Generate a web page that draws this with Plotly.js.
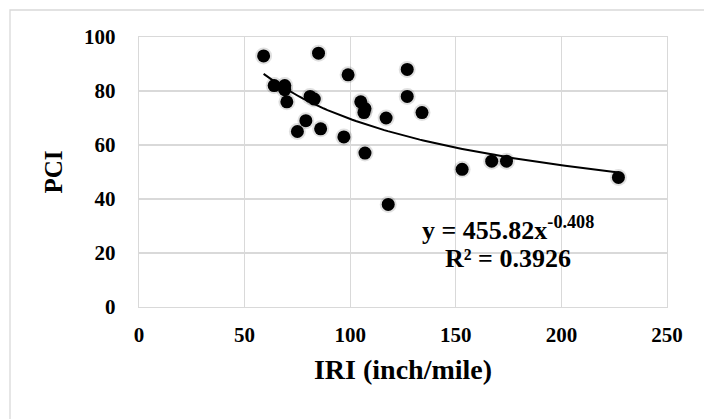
<!DOCTYPE html>
<html>
<head>
<meta charset="utf-8">
<script src="https://cdn.plot.ly/plotly-3.0.1.min.js"></script>
<style>html,body{margin:0;padding:0;background:#fff;}#chart{width:704px;height:419px;}</style>
</head>
<body>
<div id="chart"></div>
<script>
// Observed data (IRI vs PCI)
const iri = [59, 85, 99, 64, 69, 69, 70, 81, 83, 79, 75, 86, 97, 105, 107, 106.5, 117, 107, 118, 127, 127, 134, 153, 167, 174, 227];
const pci = [93, 94, 86, 82, 82, 80.5, 76, 78, 77, 69, 65, 66, 63, 76, 73.5, 72, 70, 57, 38, 88, 78, 72, 51, 54, 54, 48];

// Power trendline coefficients as printed on the chart
const trendA = 455.82;
const trendB = -0.408;
const trendLabel = 'y = 455.82x<sup>-0.408</sup>';
const r2Label = 'R² = 0.3926';

const xTicks = [0, 50, 100, 150, 200, 250];
const yTicks = [0, 20, 40, 60, 80, 100];

const xMin = Math.min(...iri), xMax = Math.max(...iri);
const tx = [], ty = [];
for (let i = 0; i <= 100; i++) {
  const x = xMin + (xMax - xMin) * i / 100;
  tx.push(x); ty.push(trendA * Math.pow(x, trendB));
}

const font = 'Liberation Serif, Times New Roman, serif';
const grid = '#d9d9d9';

const data = [
  {x: iri, y: pci, mode: 'markers', type: 'scatter',
   marker: {color: 'rgba(0,0,0,0.12)', size: 17}, hoverinfo: 'skip', showlegend: false},
  {x: iri, y: pci, mode: 'markers', type: 'scatter',
   marker: {color: '#000', size: 13}, showlegend: false},
  {x: tx, y: ty, mode: 'lines', type: 'scatter',
   line: {color: '#000', width: 2}, showlegend: false}
];

const layout = {
  width: 704, height: 419,
  margin: {l: 139, r: 37, t: 37, b: 112},
  paper_bgcolor: '#fff', plot_bgcolor: '#fff',
  font: {family: font, color: '#000'},
  xaxis: {
    range: [0, 250], tickvals: xTicks, ticktext: xTicks.map(String),
    showgrid: true, gridcolor: grid, gridwidth: 1.3,
    showline: true, linecolor: grid, linewidth: 1.3, mirror: true,
    zeroline: false, ticks: '',
    tickfont: {family: font, size: 21, color: '#000', weight: 'bold'},
    ticklabelstandoff: 8,
    title: {text: '<b>IRI (inch/mile)</b>', font: {family: font, size: 28, color: '#000'}, standoff: 14}
  },
  yaxis: {
    range: [0, 100], tickvals: yTicks, ticktext: yTicks.map(String),
    showgrid: true, gridcolor: grid, gridwidth: 1.3,
    showline: true, linecolor: grid, linewidth: 1.3, mirror: true,
    zeroline: false, ticks: '',
    tickfont: {family: font, size: 21, color: '#000', weight: 'bold'},
    ticklabelstandoff: 18,
    title: {text: '<b>PCI</b>', font: {family: font, size: 25, color: '#000'}, standoff: 14}
  },
  annotations: [
    {xref: 'x', yref: 'y', x: 174.5, y: 29, text: '<b>' + trendLabel + '</b>', showarrow: false,
     font: {family: font, size: 26, color: '#000'}, xanchor: 'center', yanchor: 'middle'},
    {xref: 'x', yref: 'y', x: 174.5, y: 18, text: '<b>' + r2Label + '</b>', showarrow: false,
     font: {family: font, size: 26, color: '#000'}, xanchor: 'center', yanchor: 'middle'}
  ],
  shapes: [
    {type: 'rect', xref: 'paper', yref: 'paper',
     x0: (10 - 139) / 528, x1: (720 - 139) / 528, y0: (307 - 430) / 270, y1: (307 - 10) / 270,
     line: {color: grid, width: 1.3}, fillcolor: 'rgba(0,0,0,0)', layer: 'below'}
  ]
};

Plotly.newPlot('chart', data, layout, {displayModeBar: false, staticPlot: true});
</script>
</body>
</html>
